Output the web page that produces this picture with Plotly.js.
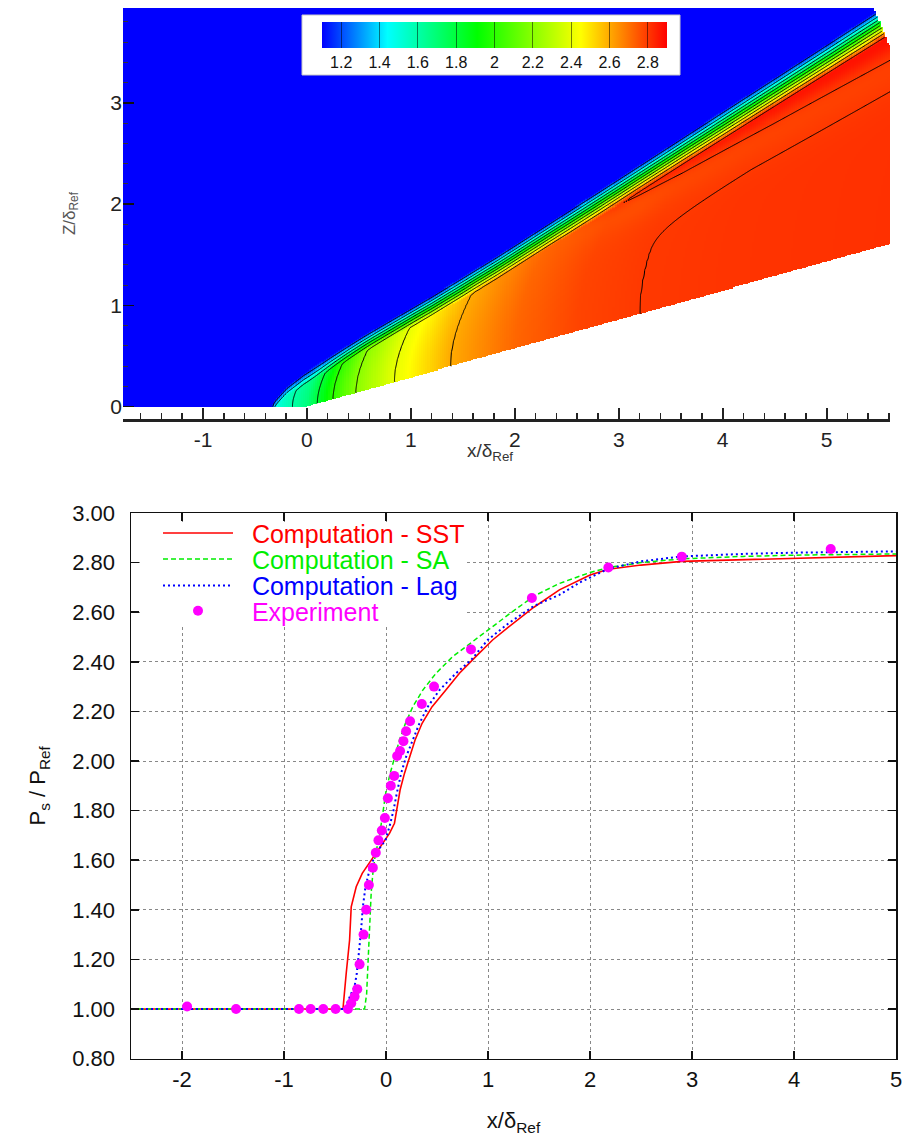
<!DOCTYPE html>
<html><head><meta charset="utf-8">
<script src="https://cdn.plot.ly/plotly-3.0.1.min.js"></script>
<style>html,body{margin:0;padding:0;background:#fff}#chart{width:907px;height:1141px}</style>
</head><body><div id="chart"></div>
<script>
// ================= Bottom chart: wall pressure ratio =================
const sstX = [-2.5, -0.422, -0.39, -0.357, -0.341, -0.292, -0.233, -0.188, -0.129, -0.070, -0.015, 0.034, 0.083, 0.109, 0.138, 0.181, 0.230, 0.285, 0.354, 0.452, 0.587, 0.72, 0.88, 1.045, 1.2, 1.45, 1.7, 2.0, 2.18, 2.5, 2.9, 3.5, 4.0, 4.5, 5.0];
const sstY = [1.00, 1.00, 1.144, 1.278, 1.412, 1.493, 1.547, 1.574, 1.608, 1.648, 1.681, 1.708, 1.749, 1.816, 1.883, 1.950, 2.017, 2.085, 2.152, 2.219, 2.286, 2.354, 2.421, 2.488, 2.54, 2.62, 2.69, 2.75, 2.773, 2.79, 2.805, 2.812, 2.818, 2.823, 2.828];

const saX = [-2.5, -0.21, -0.19, -0.175, -0.16, -0.145, -0.129, -0.103, -0.07, -0.047, -0.024, 0.002, 0.041, 0.083, 0.132, 0.191, 0.263, 0.361, 0.491, 0.654, 0.866, 1.0, 1.2, 1.45, 1.7, 2.0, 2.18, 2.5, 2.9, 3.5, 4.0, 5.0];
const saY = [1.00, 1.00, 1.06, 1.20, 1.35, 1.47, 1.547, 1.628, 1.681, 1.749, 1.816, 1.883, 1.950, 2.017, 2.085, 2.152, 2.219, 2.286, 2.354, 2.421, 2.488, 2.53, 2.59, 2.665, 2.716, 2.76, 2.78, 2.80, 2.815, 2.825, 2.83, 2.835];

const lagX = [-2.5, -0.405, -0.341, -0.309, -0.286, -0.267, -0.247, -0.227, -0.201, -0.162, -0.113, -0.064, -0.005, 0.034, 0.073, 0.106, 0.148, 0.197, 0.263, 0.328, 0.41, 0.524, 0.687, 0.834, 0.997, 1.2, 1.45, 1.7, 1.9, 2.18, 2.5, 2.9, 3.5, 4.0, 5.0];
const lagY = [1.00, 1.00, 1.063, 1.089, 1.144, 1.211, 1.305, 1.412, 1.493, 1.56, 1.614, 1.648, 1.681, 1.735, 1.80, 1.87, 1.95, 2.017, 2.085, 2.152, 2.219, 2.286, 2.354, 2.407, 2.488, 2.555, 2.625, 2.67, 2.72, 2.775, 2.805, 2.825, 2.835, 2.84, 2.845];

const expX = [-1.95, -1.47, -0.853, -0.739, -0.615, -0.494, -0.373, -0.341, -0.308, -0.282, -0.259, -0.220, -0.194, -0.168, -0.129, -0.100, -0.074, -0.041, -0.011, 0.018, 0.047, 0.080, 0.109, 0.138, 0.171, 0.197, 0.236, 0.351, 0.471, 0.833, 1.43, 2.18, 2.90, 4.36];
const expY = [1.01, 1.00, 1.00, 1.00, 1.00, 1.00, 1.00, 1.023, 1.05, 1.08, 1.18, 1.30, 1.40, 1.50, 1.57, 1.63, 1.68, 1.72, 1.77, 1.85, 1.90, 1.94, 2.02, 2.04, 2.08, 2.12, 2.16, 2.23, 2.30, 2.45, 2.657, 2.78, 2.824, 2.855];

const seriesNames = ['Computation - SST', 'Computation - SA', 'Computation - Lag', 'Experiment'];
const seriesColors = ['#ff0000', '#00ee00', '#0000ff', '#ff00ff'];

const bottomXTicks = [-2, -1, 0, 1, 2, 3, 4, 5];
const bottomXText = ['-2', '-1', '0', '1', '2', '3', '4', '5'];

// ================= Top chart: pressure field =================
// upstream edge of the smeared shock
const shockX = [-0.36, -0.31, -0.19, -0.03, 0.23, 0.55, 0.87, 1.19, 1.83, 2.82, 4.10, 5.62];
const shockZ = [0.00, 0.10, 0.23, 0.36, 0.53, 0.73, 0.92, 1.11, 1.51, 2.16, 3.01, 4.02];
// vertical thickness of the shock band
const bandX = [-0.36, 0.0, 0.6, 1.5, 3.0, 5.6];
const bandW = [0.10, 0.15, 0.19, 0.24, 0.29, 0.35];
// pressure along the wall (iso-line feet)
const wallX = [-0.36, -0.30, -0.25, -0.14, 0.0, 0.10, 0.25, 0.47, 0.84, 1.38, 2.0, 2.6, 3.2, 4.0, 5.6];
const wallP = [1.26, 1.45, 1.53, 1.60, 1.68, 1.80, 2.00, 2.20, 2.40, 2.60, 2.72, 2.78, 2.80, 2.808, 2.815];
// high-pressure strip behind the shock / slight dip in between
const stripX = [2.5, 3.2, 5.6];
const stripAmp = [0.0, 0.08, 0.08];
const dipX = [2.4, 3.2, 5.6];
const dipAmp = [0.0, 0.03, 0.03];
const freeStream = 1.0;
const rampSlope = 0.286;      // wedge surface z = slope * x (x > 0)
const isoBend = 0.42;         // bending of iso-lines away from the wall
const colorTicks = [1.2, 1.4, 1.6, 1.8, 2.0, 2.2, 2.4, 2.6, 2.8];
const topXTicks = [-1, 0, 1, 2, 3, 4, 5];
const topXText = ['-1', '0', '1', '2', '3', '4', '5'];
const topYTicks = [0, 1, 2, 3];

function lerp(xa, ya, x) {
  const n = xa.length;
  if (x <= xa[0]) return ya[0];
  if (x >= xa[n - 1]) return ya[n - 1];
  let i = 1;
  while (xa[i] < x) i++;
  const f = (x - xa[i - 1]) / (xa[i] - xa[i - 1]);
  return ya[i - 1] + f * (ya[i] - ya[i - 1]);
}

function fieldValue(x, z) {
  if (x < shockX[0]) return freeStream;
  const zs = lerp(shockX, shockZ, x);
  if (z >= zs) return freeStream;
  const zw = Math.max(0, rampSlope * x);
  const H = Math.max(zs - zw, 1e-6);
  const eta = Math.min(1, Math.max(0, (z - zw) / H));
  const shift = isoBend * H * eta * eta;
  let p = lerp(wallX, wallP, x - shift);
  p += lerp(stripX, stripAmp, x) * Math.exp(-Math.pow((eta - 0.84) / 0.07, 2));
  p -= lerp(dipX, dipAmp, x) * Math.exp(-Math.pow((eta - 0.76) / 0.15, 2));
  const t = (zs - z) / lerp(bandX, bandW, x);
  if (t < 1) {
    const s = 0.7 * t + 0.3 * t * t * (3 - 2 * t);
    p = freeStream + (p - freeStream) * s;
  }
  return p;
}

function inDomain(x, z) {
  if (z < 0) return false;
  if (x > 0 && z < rampSlope * x) return false;
  if (z > 3.57 && x > 5.6 - (z - 3.57) * 0.39) return false;
  return true;
}

const gx = [], gz = [];
for (let x = -1.77; x <= 5.615; x += 0.02) gx.push(+x.toFixed(3));
for (let z = -0.12; z <= 3.94; z += 0.01) gz.push(+z.toFixed(3));
function buildGrid() {
  return gz.map(z => gx.map(x => inDomain(x, z) ? fieldValue(x, z) : null));
}
const zHeat = buildGrid();
const zCont = buildGrid();

const rainbow = [[0, '#0000ff'], [0.19, '#00ffff'], [0.45, '#00ff00'], [0.75, '#ffff00'], [1, '#ff0000']];
const W = 907, HT = 1141;
const fx = p => p / W, fy = p => 1 - p / HT;
const FONT = 'Liberation Sans, Arial, Helvetica, sans-serif';
const NARROW = 'Liberation Sans Narrow, Liberation Sans, Arial, sans-serif';
const CB_PAD = 16;

const traces = [
  {
    type: 'heatmap', x: gx, y: gz, z: zHeat, xaxis: 'x', yaxis: 'y',
    colorscale: rainbow, zmin: 1.1, zmax: 2.9, zsmooth: false, hoverinfo: 'skip',
    showscale: true, showlegend: false,
    colorbar: {
      orientation: 'h', x: fx(494.5), xanchor: 'center', y: fy(22), yanchor: 'top',
      len: 345 + 2 * CB_PAD, lenmode: 'pixels', thickness: 26, xpad: CB_PAD, ypad: 0,
      tickmode: 'array', tickvals: colorTicks, ticktext: colorTicks.map(v => v === 2 ? '2' : v.toFixed(1)),
      ticks: 'inside', ticklen: 26, tickwidth: 1, tickcolor: 'rgba(0,0,0,0.5)',
      tickfont: { size: 16, family: FONT, color: '#111' },
      bgcolor: 'rgba(0,0,0,0)', borderwidth: 0, outlinewidth: 0
    }
  },
  {
    type: 'contour', x: gx, y: gz, z: zCont, xaxis: 'x', yaxis: 'y',
    contours: { coloring: 'none', start: 1.2, end: 2.8, size: 0.2 },
    line: { color: '#000', width: 1, smoothing: 0.8 },
    showscale: false, showlegend: false, hoverinfo: 'skip', connectgaps: false
  },
  { type: 'scatter', mode: 'lines', x: sstX, y: sstY, xaxis: 'x2', yaxis: 'y2', name: '\u00a0\u00a0' + seriesNames[0], legend: 'legend',
    line: { color: seriesColors[0], width: 1.6 } },
  { type: 'scatter', mode: 'lines', x: saX, y: saY, xaxis: 'x2', yaxis: 'y2', name: '\u00a0\u00a0' + seriesNames[1], legend: 'legend2',
    line: { color: seriesColors[1], width: 1.5, dash: '5px,3px' } },
  { type: 'scatter', mode: 'lines', x: lagX, y: lagY, xaxis: 'x2', yaxis: 'y2', name: '\u00a0\u00a0' + seriesNames[2], legend: 'legend3',
    line: { color: seriesColors[2], width: 2, dash: '2px,3px' } },
  { type: 'scatter', mode: 'markers', x: expX, y: expY, xaxis: 'x2', yaxis: 'y2', name: '\u00a0\u00a0' + seriesNames[3], legend: 'legend4',
    marker: { color: seriesColors[3], size: 10 } }
];

function leg(yc, color) {
  return { x: fx(158), xanchor: 'left', y: fy(yc), yanchor: 'middle', bgcolor: 'rgba(0,0,0,0)',
    borderwidth: 0, itemwidth: 70, font: { size: 25, family: FONT, color: color } };
}

const layout = {
  width: W, height: HT, margin: { l: 0, r: 0, t: 0, b: 0 },
  paper_bgcolor: '#fff', plot_bgcolor: '#fff',
  font: { family: FONT, color: '#111' },
  showlegend: true,
  xaxis: {
    domain: [fx(123), fx(890)], range: [-1.77, 5.61], anchor: 'y',
    tickmode: 'array', tickvals: topXTicks, ticktext: topXText,
    ticks: 'inside', ticklen: 11, tickwidth: 2, tickcolor: '#222',
    minor: { ticks: 'inside', ticklen: 6, dtick: 0.2, tick0: 0, tickwidth: 1.5, tickcolor: '#222' },
    showline: true, linewidth: 2.5, linecolor: '#222', showgrid: false, zeroline: false,
    tickfont: { size: 21, family: NARROW, color: '#222' }
  },
  yaxis: {
    domain: [fy(419), fy(8)], range: [-0.121, 3.936], anchor: 'x',
    tickmode: 'array', tickvals: topYTicks,
    ticks: 'inside', ticklen: 11, tickwidth: 1.5, tickcolor: '#111',
    minor: { ticks: 'inside', ticklen: 5, dtick: 0.2, tick0: 0, tickwidth: 1, tickcolor: '#333' },
    showline: false, showgrid: false, zeroline: false,
    tickfont: { size: 21, family: NARROW, color: '#222' },
    title: { text: 'Z/δ<sub>Ref</sub>', font: { size: 17, family: NARROW, color: '#555' }, standoff: 30 }
  },
  xaxis2: {
    domain: [fx(131), fx(896)], range: [-2.5, 5], anchor: 'y2',
    tickmode: 'array', tickvals: bottomXTicks, ticktext: bottomXText,
    ticks: 'inside', ticklen: 8, tickwidth: 1.5, tickcolor: '#111',
    showline: true, linewidth: 1.5, linecolor: '#111', mirror: 'ticks',
    showgrid: true, gridcolor: '#888', griddash: 'dot', gridwidth: 1, zeroline: false,
    tickfont: { size: 22, family: FONT, color: '#111' },
    title: { text: 'x/δ<sub>Ref</sub>', font: { size: 22, family: FONT, color: '#111' }, standoff: 22 }
  },
  yaxis2: {
    domain: [fy(1058.6), fy(513)], range: [0.8, 3.0], anchor: 'x2', dtick: 0.2, tick0: 0.8, tickformat: '.2f',
    ticks: 'inside', ticklen: 8, tickwidth: 1.5, tickcolor: '#111',
    showline: true, linewidth: 1.5, linecolor: '#111', mirror: 'ticks',
    showgrid: true, gridcolor: '#888', griddash: 'dot', gridwidth: 1, zeroline: false,
    tickfont: { size: 22, family: FONT, color: '#111' }, ticklabelstandoff: 10,
    title: { text: 'P<sub>s</sub> / P<sub>Ref</sub>', font: { size: 22, family: FONT, color: '#111' }, standoff: 20 }
  },
  legend: leg(533.3, seriesColors[0]),
  legend2: leg(559.3, seriesColors[1]),
  legend3: leg(585.7, seriesColors[2]),
  legend4: leg(611, seriesColors[3]),
  annotations: [
    { text: 'x/δ<sub>Ref</sub>', xref: 'paper', yref: 'paper', x: fx(490), y: fy(452), xanchor: 'center', yanchor: 'middle',
      showarrow: false, font: { size: 19, family: NARROW, color: '#333' } }
  ],
  shapes: [
    { type: 'rect', xref: 'paper', yref: 'paper', x0: fx(141), x1: fx(465), y0: fy(624), y1: fy(522),
      fillcolor: '#ffffff', line: { width: 0 }, layer: 'above' },
    { type: 'rect', xref: 'paper', yref: 'paper', x0: fx(302), x1: fx(680), y0: fy(75), y1: fy(15),
      fillcolor: '#ffffff', line: { width: 1, color: '#c8c8c8' }, layer: 'above' }
  ]
};

Plotly.newPlot('chart', traces, layout, { staticPlot: true, displayModeBar: false });
</script>
</body></html>
